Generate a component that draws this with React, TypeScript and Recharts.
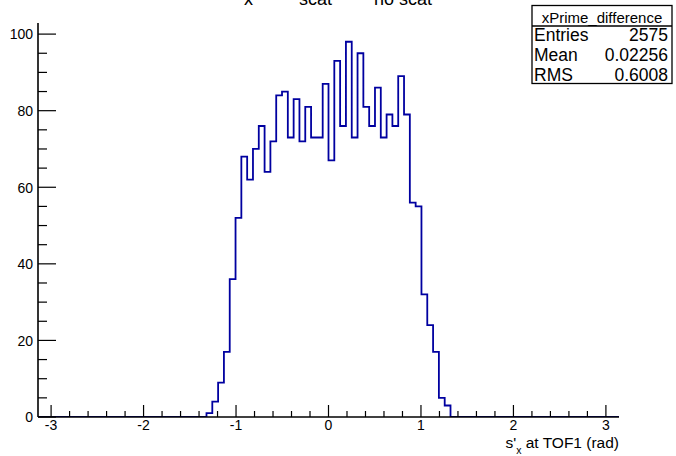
import { Line, LineChart, XAxis, YAxis } from 'recharts';

const FONT = '"Liberation Sans", Arial, Helvetica, sans-serif';
const LINE_COLOR = '#0000a0';

// histogram range and binning (100 bins over -pi..pi)
const X_MIN = -Math.PI;
const X_MAX = Math.PI;
const Y_MAX = 102.9;

// bin contents, leftmost bin first
const counts = [
  0, 0, 0, 0, 0, 0, 0, 0, 0, 0,
  0, 0, 0, 0, 0, 0, 0, 0, 0, 0,
  0, 0, 0, 0, 0, 0, 0, 0, 0, 1,
  4, 9, 17, 36, 52, 68, 62, 70, 76, 64,
  72, 84, 85, 73, 83, 72, 81, 73, 73, 87,
  67, 93, 76, 98, 73, 95, 81, 76, 86, 73,
  79, 76, 89, 79, 56, 55, 32, 24, 17, 5,
  3, 0, 0, 0, 0, 0, 0, 0, 0, 0,
  0, 0, 0, 0, 0, 0, 0, 0, 0, 0,
  0, 0, 0, 0, 0, 0, 0, 0, 0, 0,
];

const xMajorTicks = [-3, -2, -1, 0, 1, 2, 3];
const yMajorTicks = [0, 20, 40, 60, 80, 100];

const statsTitle = 'xPrime_difference';
const statsLabels = ['Entries', 'Mean', 'RMS'];
const statsValues = ['2575', '0.02256', '0.6008'];

// minor ticks: 4 between x majors, 3 between y majors
const xTicks = [
  ...xMajorTicks,
  ...xMajorTicks.slice(0, -1).flatMap((m) => [1, 2, 3, 4].map((k) => Number((m + k * 0.2).toFixed(1)))),
];
const yTicks = [
  ...yMajorTicks,
  ...yMajorTicks.slice(0, -1).flatMap((m) => [5, 10, 15].map((k) => m + k)),
];

const binWidth = (X_MAX - X_MIN) / counts.length;
// one point per bin low edge, plus the upper edge of the last bin
const data = [...counts, 0].map((count, i) => ({ x: X_MIN + i * binWidth, count }));

function XTick(props: any) {
  const { x, y, payload } = props;
  const major = xMajorTicks.includes(payload.value);
  return (
    <g>
      <line x1={x} x2={x} y1={y} y2={y - (major ? 12 : 6)} stroke="#000" strokeWidth={1.2} />
      {major && (
        <text x={x} y={y + 12.5} textAnchor="middle" fontSize={14} fontFamily={FONT} fill="#000">
          {payload.value}
        </text>
      )}
    </g>
  );
}

function YTick(props: any) {
  const { x, y, payload } = props;
  const major = yMajorTicks.includes(payload.value);
  return (
    <g>
      <line x1={x} x2={x + (major ? 18 : 9)} y1={y} y2={y} stroke="#000" strokeWidth={1.2} />
      {major && (
        <text x={x - 5} y={y + 5.3} textAnchor="end" fontSize={14} fontFamily={FONT} fill="#000">
          {payload.value}
        </text>
      )}
    </g>
  );
}

function Overlay() {
  return (
    <svg
      width={676}
      height={456}
      style={{ position: 'absolute', left: 0, top: 0, pointerEvents: 'none' }}
      fontFamily={FONT}
    >
      {/* title, cut off by the top edge as in the original */}
      <text fontSize={18} fill="#000">
        <tspan x={244} y={5}>x</tspan>
        <tspan x={299} y={5}>scat</tspan>
        <tspan x={374} y={5}>no scat</tspan>
      </text>

      {/* stats box */}
      <rect x={532} y={5.5} width={140} height={78} fill="#fff" stroke="#000" strokeWidth={1.3} />
      <line x1={532} x2={672} y1={26} y2={26} stroke="#000" strokeWidth={1.3} />
      <text x={602} y={23} textAnchor="middle" fontSize={15} fill="#000">
        {statsTitle}
      </text>
      {statsLabels.map((label, i) => (
        <g key={label}>
          <text x={534} y={41 + i * 19.8} fontSize={17.5} fill="#000">
            {label}
          </text>
          <text x={668} y={41 + i * 19.8} textAnchor="end" fontSize={17.5} fill="#000">
            {statsValues[i]}
          </text>
        </g>
      ))}

      {/* x axis title */}
      <text x={619} y={448} textAnchor="end" fontSize={15.5} fill="#000">
        s'
        <tspan dy={6} fontSize={10.5}>x</tspan>
        <tspan dy={-6}> at TOF1 (rad)</tspan>
      </text>
    </svg>
  );
}

export default function App() {
  return (
    <div style={{ position: 'absolute', left: 0, top: 0, width: 676, height: 456, background: '#fff' }}>
      <LineChart width={676} height={456} data={data} margin={{ top: 23, right: 57, left: 0, bottom: 0 }}>
        <Line
          type="stepAfter"
          dataKey="count"
          stroke={LINE_COLOR}
          strokeWidth={1.8}
          dot={false}
          activeDot={false}
          isAnimationActive={false}
        />
        <XAxis
          type="number"
          dataKey="x"
          domain={[X_MIN, X_MAX]}
          ticks={xTicks}
          interval={0}
          tick={(p: any) => <XTick {...p} />}
          tickLine={false}
          tickSize={0}
          tickMargin={0}
          height={39}
          allowDataOverflow
          axisLine={{ stroke: '#000', strokeWidth: 1.6 }}
        />
        <YAxis
          type="number"
          domain={[0, Y_MAX]}
          ticks={yTicks}
          interval={0}
          tick={(p: any) => <YTick {...p} />}
          tickLine={false}
          tickSize={0}
          tickMargin={0}
          width={38}
          allowDataOverflow
          axisLine={{ stroke: '#000', strokeWidth: 1.6 }}
        />
        <XAxis
          xAxisId="top"
          orientation="top"
          type="number"
          domain={[X_MIN, X_MAX]}
          tick={false}
          tickLine={false}
          height={0}
          axisLine={{ stroke: '#000', strokeWidth: 1.6 }}
        />
        <YAxis
          yAxisId="right"
          orientation="right"
          type="number"
          domain={[0, Y_MAX]}
          tick={false}
          tickLine={false}
          width={0}
          axisLine={{ stroke: '#000', strokeWidth: 1.6 }}
        />
      </LineChart>
      <Overlay />
    </div>
  );
}
